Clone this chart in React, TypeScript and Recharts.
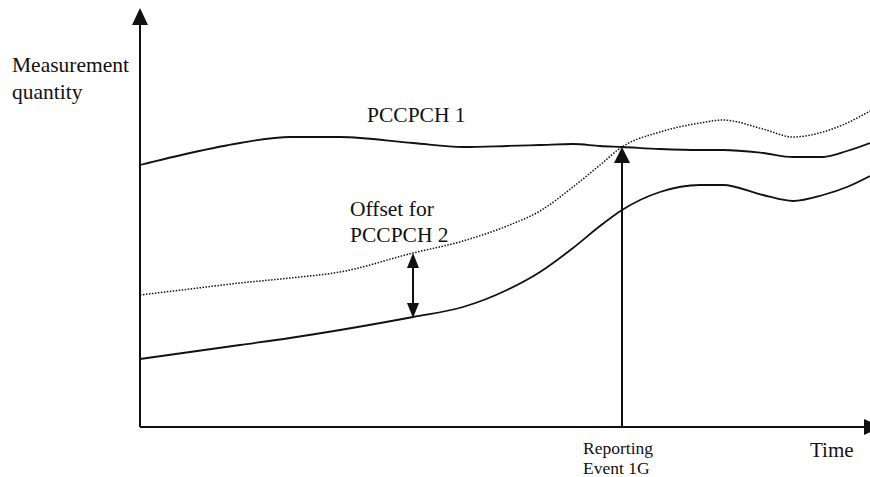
import { LineChart, Line, XAxis, YAxis, ReferenceLine } from 'recharts'

// time positions along the x axis
const times = [0, 50, 100, 150, 200, 273, 323, 367, 400, 433, 460, 482, 520, 560, 583, 623, 653, 683, 707, 730]
// measured quantity for PCCPCH 1
const pccpch1 = [262, 274, 284, 290, 290, 284, 280, 281, 282, 283, 281, 280, 278, 277, 277, 274, 270, 270, 276, 284]
// PCCPCH 2 plus offset (dotted)
const pccpch2Offset = [132, 138, 144, 149, 155, 174, 186, 201, 216, 240, 262, 280, 295, 304, 307, 298, 290, 295, 304, 316]
// PCCPCH 2 measured
const pccpch2 = [68, 75, 82, 89, 97, 110, 120, 137, 155, 179, 201, 217, 235, 242, 242, 232, 226, 232, 240, 251]

const eventTime = 482
const offsetTime = 273

const data = times.map((t, i) => ({
  t,
  p1: pccpch1[i],
  p2o: pccpch2Offset[i],
  p2: pccpch2[i],
}))

const INK = '#111'
const font = "'Liberation Serif', serif"

// line with an arrow head at the end (and optionally at the start)
const arrow = (head: number, half: number, both = false) => (p: any) => {
  const { x1, y1, x2, y2 } = p
  const len = Math.hypot(x2 - x1, y2 - y1) || 1
  const ux = (x2 - x1) / len
  const uy = (y2 - y1) / len
  const tri = (tx: number, ty: number, sx: number, sy: number) => {
    const bx = tx - sx * head
    const by = ty - sy * head
    return `${tx},${ty} ${bx - sy * half},${by + sx * half} ${bx + sy * half},${by - sx * half}`
  }
  const sx = both ? x1 + ux * head : x1
  const sy = both ? y1 + uy * head : y1
  return (
    <g>
      <line x1={sx} y1={sy} x2={x2 - ux * head} y2={y2 - uy * head} stroke={INK} strokeWidth={2} />
      <polygon points={tri(x2, y2, ux, uy)} fill={INK} />
      {both && <polygon points={tri(x1, y1, -ux, -uy)} fill={INK} />}
    </g>
  )
}

// chart labels drawn as svg text over the plot
const Labels = () => (
  <g fontFamily={font} fill={INK}>
    <text x={12} y={72} fontSize={21.5}>Measurement</text>
    <text x={12} y={99} fontSize={21.5}>quantity</text>
    <text x={367} y={122} fontSize={21.5}>PCCPCH 1</text>
    <text x={350} y={216} fontSize={21.5}>Offset for</text>
    <text x={350} y={242} fontSize={21.5}>PCCPCH 2</text>
    <text x={583} y={454} fontSize={17.5}>Reporting</text>
    <text x={583} y={474} fontSize={17.5}>Event 1G</text>
    <text x={810} y={457} fontSize={21}>Time</text>
  </g>
)

export default function App() {
  return (
    <div style={{ position: 'absolute', left: 0, top: 0, width: 870, height: 477, background: '#fff', overflow: 'hidden' }}>
      <LineChart width={870} height={477} data={data} margin={{ top: 8, right: 0, bottom: 50, left: 140 }}>
        <XAxis type="number" dataKey="t" domain={[0, 730]} hide />
        <YAxis type="number" domain={[0, 419]} hide />
        <Line type="monotone" dataKey="p1" stroke={INK} strokeWidth={1.8} dot={false} isAnimationActive={false} />
        <Line
          type="monotone"
          dataKey="p2o"
          stroke={INK}
          strokeWidth={1.5}
          strokeDasharray="1.5 1.5"
          dot={false}
          isAnimationActive={false}
        />
        <Line type="monotone" dataKey="p2" stroke={INK} strokeWidth={1.8} dot={false} isAnimationActive={false} />
        {/* axes */}
        <ReferenceLine segment={[{ x: 0, y: 0 }, { x: 0, y: 419 }]} ifOverflow="visible" shape={arrow(17, 8)} />
        <ReferenceLine segment={[{ x: 0, y: 0 }, { x: 741, y: 0 }]} ifOverflow="visible" shape={arrow(17, 8)} />
        {/* reporting event */}
        <ReferenceLine segment={[{ x: eventTime, y: 0 }, { x: eventTime, y: 280 }]} ifOverflow="visible" shape={arrow(16, 8)} />
        {/* offset */}
        <ReferenceLine segment={[{ x: offsetTime, y: 109 }, { x: offsetTime, y: 174 }]} ifOverflow="visible" shape={arrow(15, 6, true)} />
        <Labels />
      </LineChart>
    </div>
  )
}
